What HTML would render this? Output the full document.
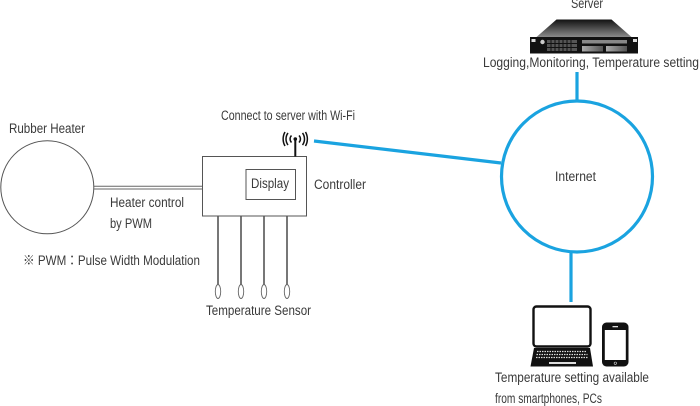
<!DOCTYPE html>
<html><head><meta charset="utf-8"><style>
html,body{margin:0;padding:0;background:#fff}
svg{display:block}
text{font-family:"Liberation Sans","Noto Sans CJK JP",sans-serif;font-size:13.5px;fill:#3a3a3a}
</style></head><body>
<svg width="700" height="406" viewBox="0 0 700 406" xmlns="http://www.w3.org/2000/svg">
<defs>
<linearGradient id="g" x1="0" y1="0" x2="0" y2="1"><stop offset="0" stop-color="#111"/><stop offset="1" stop-color="#8a8a8a"/></linearGradient>
<linearGradient id="b" x1="0" y1="0" x2="1" y2="0"><stop offset="0" stop-color="#aaa"/><stop offset="1" stop-color="#555"/></linearGradient>
</defs>
<!-- blue -->
<g stroke="#1aa3e0" stroke-width="3.2" fill="none">
<circle cx="577" cy="176.500" r="75.500"/>
<line x1="314" y1="141" x2="501" y2="163"/>
<line x1="577" y1="72" x2="577" y2="101"/>
<line x1="571" y1="252" x2="571" y2="302"/>
</g>
<!-- heater -->
<circle cx="47.300" cy="187.300" r="46.500" fill="#fff" stroke="#555" stroke-width="1"/>
<line x1="94" y1="186.300" x2="202" y2="186.300" stroke="#666" stroke-width="1"/>
<line x1="94" y1="189" x2="202" y2="189" stroke="#666" stroke-width="1"/>
<!-- controller -->
<rect x="202.500" y="156.500" width="104" height="59.500" fill="#fff" stroke="#555" stroke-width="1"/>
<rect x="246" y="169.500" width="49.500" height="30" fill="#fff" stroke="#555" stroke-width="1"/>
<!-- antenna -->
<line x1="295.300" y1="140" x2="295.300" y2="156.500" stroke="#111" stroke-width="2"/>
<circle cx="295.300" cy="139" r="1.800" fill="#111"/>
<g fill="none" stroke="#111" stroke-width="1.500">
<path d="M291.500 135.500a5 5 0 0 0 0 7"/><path d="M299 135.500a5 5 0 0 1 0 7"/>
<path d="M288 133a10 10 0 0 0 0 12"/><path d="M302.500 133a10 10 0 0 1 0 12"/>
<path d="M285 132a14 14 0 0 0 0 14"/><path d="M305.500 132a14 14 0 0 1 0 14"/>
</g>
<!-- sensors -->
<g stroke="#555" stroke-width="1.600">
<line x1="218" y1="216" x2="218" y2="285"/><line x1="241" y1="216" x2="241" y2="285"/>
<line x1="264" y1="216" x2="264" y2="285"/><line x1="287" y1="216" x2="287" y2="285"/>
</g>
<g fill="#fff" stroke="#666" stroke-width="0.900">
<ellipse cx="218" cy="291.500" rx="2.700" ry="7"/><ellipse cx="241" cy="291.500" rx="2.700" ry="7"/>
<ellipse cx="264" cy="291.500" rx="2.700" ry="7"/><ellipse cx="287" cy="291.500" rx="2.700" ry="7"/>
</g>
<!-- server -->
<polygon points="556.500,19.500 611.500,19.500 631.500,37 536.500,37" fill="url(#g)"/>
<rect x="530" y="37" width="108" height="16.500" fill="#111"/>
<rect x="531.500" y="39" width="4" height="3" fill="#ddd"/>
<rect x="633" y="39" width="4" height="3" fill="#ddd"/>
<circle cx="542.500" cy="42" r="2.200" fill="#ccc"/>
<rect x="547" y="40" width="30" height="11" fill="#555"/>
<g stroke="#111" stroke-width="1"><path d="M547 43.500h30M547 47.500h30M551 40v11M555 40v11M559 40v11M563 40v11M567 40v11M571 40v11"/></g>
<rect x="582" y="40" width="45" height="3.500" fill="#888"/>
<rect x="582" y="46" width="21" height="5.500" fill="url(#b)"/>
<rect x="606" y="46" width="21" height="5.500" fill="url(#b)"/>
<!-- laptop -->
<rect x="533.500" y="306.500" width="57" height="40" rx="3" fill="#fff" stroke="#111" stroke-width="2.400"/>
<polygon points="534,348 590,348 593,366.500 530.500,366.500" fill="#111"/>
<g stroke="#ddd" stroke-width="1.300" stroke-dasharray="1.500 1"><path d="M537 351.500h50M536.500 354.500h51M536 357.500h52"/></g>
<rect x="549" y="362" width="27" height="2" fill="#ddd"/>
<!-- phone -->
<rect x="602" y="322.500" width="26.500" height="44" rx="4.500" fill="#111"/>
<rect x="604.800" y="330" width="21" height="30" fill="#fff"/>
<rect x="612.500" y="326" width="5.500" height="1.300" fill="#ddd"/>
<circle cx="615.300" cy="363.200" r="1.200" fill="none" stroke="#ddd" stroke-width="0.600"/>
<!-- labels -->
<text x="571" y="8" textLength="32" lengthAdjust="spacingAndGlyphs">Server</text>
<text x="483" y="67" textLength="216" lengthAdjust="spacingAndGlyphs">Logging,Monitoring, Temperature setting</text>
<text x="221" y="120" textLength="134" lengthAdjust="spacingAndGlyphs">Connect to server with Wi-Fi</text>
<text x="9" y="133" textLength="76" lengthAdjust="spacingAndGlyphs">Rubber Heater</text>
<text x="251" y="188" textLength="38" lengthAdjust="spacingAndGlyphs">Display</text>
<text x="314" y="189" textLength="52" lengthAdjust="spacingAndGlyphs">Controller</text>
<text x="555" y="181" textLength="41" lengthAdjust="spacingAndGlyphs">Internet</text>
<text x="110" y="207" textLength="74" lengthAdjust="spacingAndGlyphs">Heater control</text>
<text x="110" y="228" textLength="42" lengthAdjust="spacingAndGlyphs">by PWM</text>
<text x="23" y="265" textLength="177" lengthAdjust="spacingAndGlyphs">※ PWM：Pulse Width Modulation</text>
<text x="206" y="315" textLength="105" lengthAdjust="spacingAndGlyphs">Temperature Sensor</text>
<text x="495" y="382" textLength="154" lengthAdjust="spacingAndGlyphs">Temperature setting available</text>
<text x="495" y="403" textLength="107" lengthAdjust="spacingAndGlyphs">from smartphones, PCs</text>
</svg>
</body></html>
